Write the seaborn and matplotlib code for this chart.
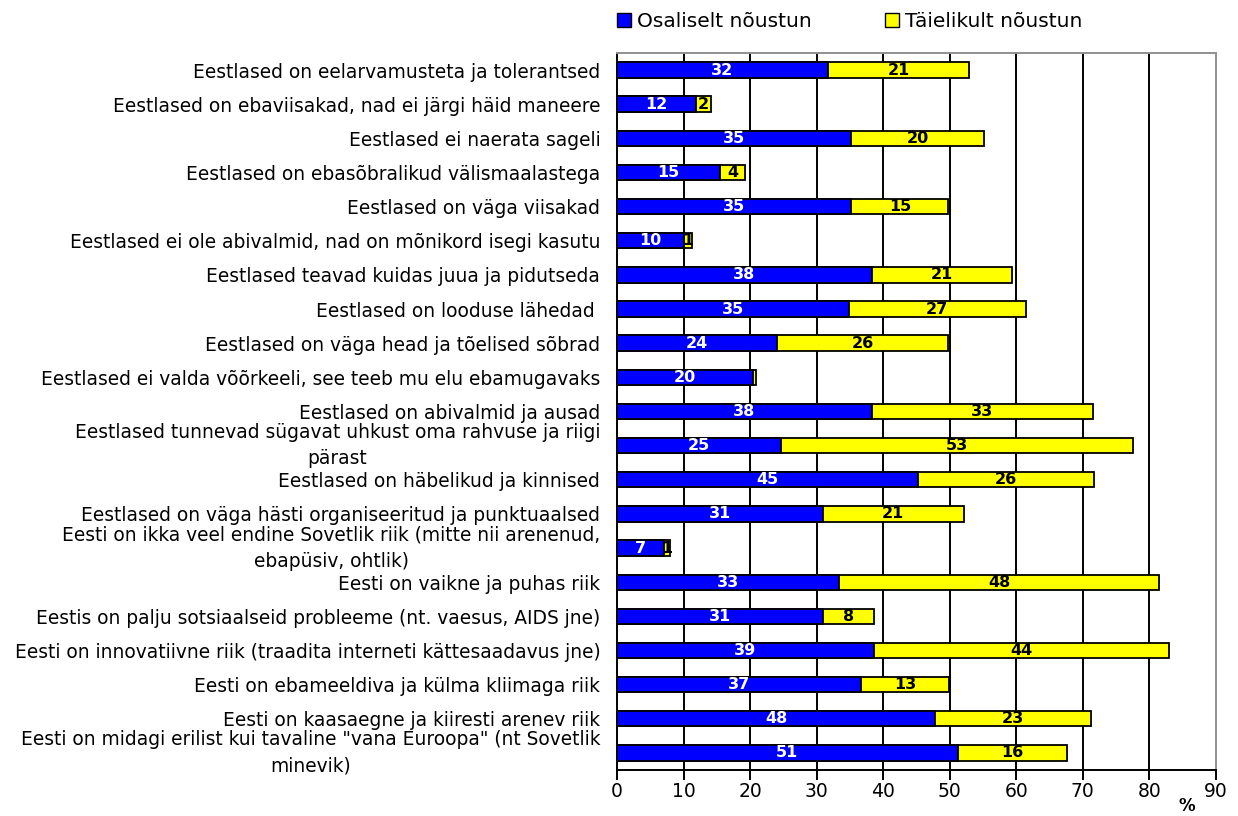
import numpy as np
import pandas as pd
import matplotlib
matplotlib.use("Agg")
import matplotlib.pyplot as plt
from matplotlib.patches import Patch
import seaborn as sns

# Survey statements (top to bottom)
statements = [
    "Eestlased on eelarvamusteta ja tolerantsed",
    "Eestlased on ebaviisakad, nad ei järgi häid maneere",
    "Eestlased ei naerata sageli",
    "Eestlased on ebasõbralikud välismaalastega",
    "Eestlased on väga viisakad",
    "Eestlased ei ole abivalmid, nad on mõnikord isegi kasutu",
    "Eestlased teavad kuidas juua ja pidutseda",
    "Eestlased on looduse lähedad ",
    "Eestlased on väga head ja tõelised sõbrad",
    "Eestlased ei valda võõrkeeli, see teeb mu elu ebamugavaks",
    "Eestlased on abivalmid ja ausad",
    "Eestlased tunnevad sügavat uhkust oma rahvuse ja riigi\npärast",
    "Eestlased on häbelikud ja kinnised",
    "Eestlased on väga hästi organiseeritud ja punktuaalsed",
    "Eesti on ikka veel endine Sovetlik riik (mitte nii arenenud,\nebapüsiv, ohtlik)",
    "Eesti on vaikne ja puhas riik",
    "Eestis on palju sotsiaalseid probleeme (nt. vaesus, AIDS jne)",
    "Eesti on innovatiivne riik (traadita interneti kättesaadavus jne)",
    "Eesti on ebameeldiva ja külma kliimaga riik",
    "Eesti on kaasaegne ja kiiresti arenev riik",
    "Eesti on midagi erilist kui tavaline \"vana Euroopa\" (nt Sovetlik\nminevik)",
]

# Share of respondents, %
partly_agree = [31.7, 11.9, 35.2, 15.4, 35.2, 10.0, 38.3, 34.8, 24.0, 20.4, 38.3,
                24.6, 45.3, 30.9, 7.0, 33.3, 30.9, 38.6, 36.6, 47.8, 51.2]
fully_agree = [21.2, 2.2, 19.9, 3.9, 14.6, 1.2, 21.1, 26.6, 25.8, 0.5, 33.2,
               52.9, 26.4, 21.2, 0.9, 48.2, 7.7, 44.4, 13.3, 23.4, 16.4]

series_names = ["Osaliselt nõustun", "Täielikult nõustun"]
x_ticks = [0, 10, 20, 30, 40, 50, 60, 70, 80, 90]

BLUE = "#0000FF"
YELLOW = "#FFFF00"

df = pd.DataFrame({
    "statement": statements,
    "partly": partly_agree,
    "fully": fully_agree,
})
df["total"] = df["partly"] + df["fully"]

sns.set_style("white")
plt.rcParams["font.family"] = ["DejaVu Sans"]
plt.rcParams["text.color"] = "black"
plt.rcParams["xtick.color"] = "black"
plt.rcParams["ytick.color"] = "black"
plt.rcParams["axes.labelcolor"] = "black"

fig = plt.figure(figsize=(12.38, 8.16), dpi=100)
ax = fig.add_axes([0.4984, 0.0564, 0.4838, 0.8787])

# Stacked bars: full length in yellow, blue part drawn over it
sns.barplot(data=df, y="statement", x="total", color=YELLOW, edgecolor="black",
            linewidth=1.3, width=0.45, saturation=1, orient="h", ax=ax, zorder=3)
sns.barplot(data=df, y="statement", x="partly", color=BLUE, edgecolor="black",
            linewidth=1.3, width=0.45, saturation=1, orient="h", ax=ax, zorder=4)

# Value labels inside the segments
for i, (p, f) in enumerate(zip(df["partly"], df["fully"])):
    ax.text(p / 2, i, f"{round(p):d}", ha="center", va="center", color="white",
            fontsize=11.5, fontweight="bold", zorder=6)
    if f >= 0.75:
        ax.text(p + f / 2, i, f"{round(f):d}", ha="center", va="center",
                color="black", fontsize=11.5, fontweight="bold", zorder=6)

ax.set_xlim(0, 90)
ax.set_ylim(len(statements) - 0.5, -0.5)
ax.set_xticks(x_ticks)
ax.set_xticklabels([str(t) for t in x_ticks], fontsize=13.5)
ax.set_xlabel("")
ax.set_ylabel("")

# Vertical gridlines
for t in x_ticks[1:-1]:
    ax.axvline(t, color="black", linewidth=1.4, zorder=1)

# Category labels and boundary ticks
ax.set_yticks(range(len(statements)))
ax.set_yticklabels(statements, fontsize=13.4, multialignment="center",
                   linespacing=1.5)
for lbl in ax.get_yticklabels():
    if "\n" in lbl.get_text():
        lbl.set_verticalalignment("center")
ax.set_yticks(np.arange(-0.5, len(statements), 1.0), minor=True)
ax.tick_params(axis="y", which="major", length=0, pad=12)
ax.tick_params(axis="y", which="minor", length=6, width=1.2, color="black", direction="out")
ax.tick_params(axis="x", which="major", length=7, width=1.4, color="black",
               direction="out", pad=2, bottom=True)

for side in ["left", "bottom"]:
    ax.spines[side].set_color("black")
    ax.spines[side].set_linewidth(1.4)
for side in ["top", "right"]:
    ax.spines[side].set_color("#909090")
    ax.spines[side].set_linewidth(1.4)

# Legend
handles = [Patch(facecolor=BLUE, edgecolor="black", linewidth=1.0),
           Patch(facecolor=YELLOW, edgecolor="black", linewidth=1.0)]
fig.legend(handles, series_names, loc="upper left", bbox_to_anchor=(0.484, 1.007),
           ncol=2, frameon=False, fontsize=14.5, handlelength=0.7, handleheight=0.7,
           handletextpad=0.3, columnspacing=3.6)

fig.text(0.959, 0.001, "%", ha="center", va="bottom", fontsize=12, fontweight="bold")

fig.savefig("out.png", dpi=100)
